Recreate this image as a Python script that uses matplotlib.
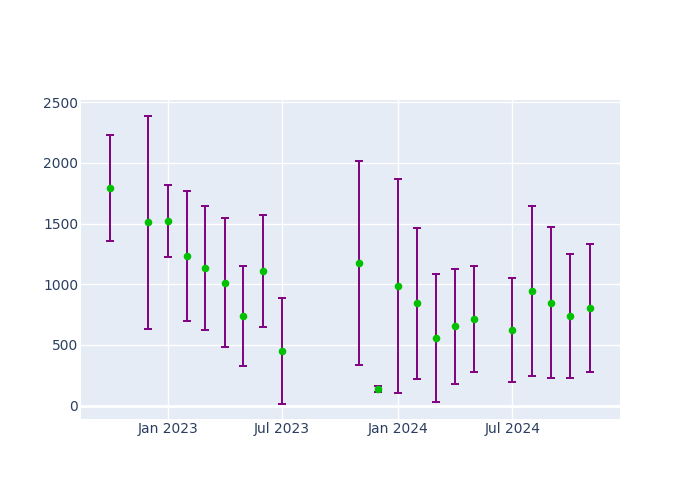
import numpy as np
import pandas as pd
import matplotlib
matplotlib.use("Agg")
import matplotlib.pyplot as plt
import matplotlib.dates as mdates

dates = pd.to_datetime([
    "2022-10-01", "2022-12-01", "2023-01-01", "2023-02-01", "2023-03-01",
    "2023-04-01", "2023-05-01", "2023-06-01", "2023-07-01", "2023-11-01",
    "2023-12-01", "2024-01-01", "2024-02-01", "2024-03-01", "2024-04-01",
    "2024-05-01", "2024-07-01", "2024-08-01", "2024-09-01", "2024-10-01",
    "2024-11-01",
])
values = [1792, 1511, 1521, 1236, 1134, 1013, 741, 1110, 451, 1177,
          139, 985, 843, 558, 655, 717, 624, 947, 849, 736, 803]
errors = [436, 878, 300, 535, 510, 529, 412, 461, 437, 840,
          26, 880, 621, 526, 474, 436, 428, 700, 623, 510, 528]

fig = plt.figure(figsize=(7, 5), dpi=100)
ax = fig.add_axes([81 / 700, 81 / 500, 539 / 700, 319 / 500])
ax.set_facecolor("#E5ECF6")

ax.errorbar(dates, values, yerr=errors, fmt="none", ecolor="#800080",
            elinewidth=1.4, capsize=3, capthick=1.4, zorder=3)
ax.scatter(dates, values, s=30, color="#00C000", zorder=4, linewidths=0)

ax.set_xlim(pd.Timestamp("2022-08-16"), pd.Timestamp("2024-12-19"))
ax.set_ylim(-110, 2518)
ax.set_yticks([0, 500, 1000, 1500, 2000, 2500])
ax.set_xticks(pd.to_datetime(["2023-01-01", "2023-07-01", "2024-01-01", "2024-07-01"]))
ax.xaxis.set_major_formatter(mdates.DateFormatter("%b %Y"))

ax.grid(True, color="white", linewidth=1)
ax.axhline(0, color="white", linewidth=2, zorder=1)
ax.set_axisbelow(True)
for s in ax.spines.values():
    s.set_visible(False)
ax.tick_params(length=0, colors="#2a3f5f", labelsize=10)
ax.tick_params(axis="x", pad=2)
ax.tick_params(axis="y", pad=2)

fig.savefig("out.png", dpi=100)
